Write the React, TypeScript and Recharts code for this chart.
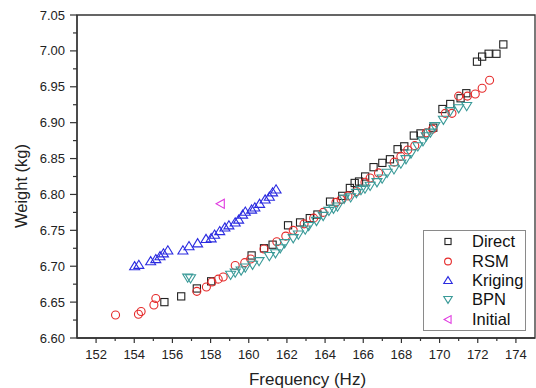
import React from "react";
import { ScatterChart, Scatter, XAxis, YAxis, ReferenceArea, Legend } from "recharts";

// data (Hz / kg)
const directHz = [155.58, 156.46, 157.28, 158.03, 160.15, 160.8, 161.25, 162.06, 162.69, 163.2, 163.6, 164.26, 164.9, 165.3, 165.55, 165.78, 166.1, 166.54, 167.0, 167.4, 167.8, 168.15, 168.65, 169.0, 169.67, 170.15, 170.56, 171.1, 171.4, 171.96, 172.23, 172.57, 172.98, 173.34];
const directKg = [6.65, 6.658, 6.669, 6.679, 6.715, 6.725, 6.73, 6.757, 6.761, 6.767, 6.772, 6.79, 6.798, 6.809, 6.816, 6.818, 6.825, 6.838, 6.844, 6.849, 6.863, 6.867, 6.882, 6.885, 6.893, 6.919, 6.926, 6.934, 6.941, 6.985, 6.992, 6.996, 6.996, 7.009];

const rsmHz = [153.02, 154.22, 154.36, 155.03, 155.13, 157.28, 157.78, 158.07, 158.4, 158.66, 159.29, 159.79, 160.1, 160.8, 161.47, 161.94, 162.33, 162.9, 163.4, 163.9, 164.57, 164.84, 165.2, 165.64, 166.09, 166.36, 166.8, 167.62, 167.97, 168.33, 168.7, 169.3, 169.63, 170.3, 170.65, 171.0, 171.46, 171.87, 172.23, 172.62];
const rsmKg = [6.632, 6.633, 6.637, 6.646, 6.655, 6.665, 6.671, 6.678, 6.682, 6.685, 6.701, 6.705, 6.71, 6.724, 6.734, 6.742, 6.75, 6.759, 6.767, 6.775, 6.789, 6.793, 6.798, 6.804, 6.817, 6.823, 6.83, 6.845, 6.853, 6.862, 6.868, 6.886, 6.891, 6.913, 6.913, 6.937, 6.937, 6.94, 6.948, 6.959];

const krigingHz = [154.02, 154.24, 154.86, 155.13, 155.35, 155.53, 155.76, 156.55, 156.87, 157.32, 157.76, 158.03, 158.21, 158.48, 158.75, 158.96, 159.29, 159.47, 159.68, 159.82, 160.15, 160.32, 160.57, 160.86, 161.08, 161.25, 161.43];
const krigingKg = [6.7, 6.702, 6.707, 6.71, 6.714, 6.718, 6.722, 6.722, 6.728, 6.732, 6.738, 6.739, 6.744, 6.749, 6.754, 6.757, 6.761, 6.765, 6.772, 6.776, 6.779, 6.782, 6.787, 6.793, 6.797, 6.803, 6.807];

const bpnHz = [156.8, 156.95, 159.05, 159.29, 159.6, 159.82, 160.2, 160.54, 161.08, 161.4, 161.65, 161.88, 162.33, 162.6, 162.96, 163.14, 163.55, 163.9, 164.2, 164.44, 164.65, 165.0, 165.34, 165.64, 165.88, 166.09, 166.36, 166.72, 166.99, 167.25, 167.61, 167.97, 168.24, 168.5, 168.86, 169.13, 169.3, 169.52, 169.75, 170.2, 170.56, 171.0, 171.42];
const bpnKg = [6.684, 6.683, 6.688, 6.691, 6.694, 6.698, 6.702, 6.707, 6.714, 6.718, 6.725, 6.732, 6.739, 6.744, 6.751, 6.756, 6.763, 6.77, 6.777, 6.78, 6.783, 6.794, 6.796, 6.802, 6.806, 6.808, 6.812, 6.817, 6.822, 6.83, 6.835, 6.843, 6.849, 6.857, 6.867, 6.874, 6.881, 6.886, 6.895, 6.904, 6.916, 6.92, 6.923];

const initialHz = [158.53];
const initialKg = [6.787];

const xTicks = [152, 153, 154, 155, 156, 157, 158, 159, 160, 161, 162, 163, 164, 165, 166, 167, 168, 169, 170, 171, 172, 173, 174];
const yTicks = [6.6, 6.625, 6.65, 6.675, 6.7, 6.725, 6.75, 6.775, 6.8, 6.825, 6.85, 6.875, 6.9, 6.925, 6.95, 6.975, 7.0, 7.025, 7.05];

const FONT = "'Liberation Sans', Arial, sans-serif";
const AXIS = "#333";

const toPoints = (hz: number[], kg: number[]) => hz.map((x, i) => ({ x, y: kg[i] }));

type MarkerKind = "square" | "circle" | "up" | "down" | "left";

const Marker = ({ kind, cx, cy, color, s = 1 }: { kind: MarkerKind; cx: number; cy: number; color: string; s?: number }) => {
  const common = { fill: "none", stroke: color, strokeWidth: 1.1 };
  if (kind === "square") return <rect x={cx - 3.6 * s} y={cy - 3.6 * s} width={7.2 * s} height={7.2 * s} {...common} />;
  if (kind === "circle") return <circle cx={cx} cy={cy} r={4 * s} {...common} />;
  if (kind === "up")
    return <polygon points={`${cx},${cy - 4.6 * s} ${cx + 5 * s},${cy + 3.6 * s} ${cx - 5 * s},${cy + 3.6 * s}`} {...common} />;
  if (kind === "down")
    return <polygon points={`${cx - 5 * s},${cy - 3.6 * s} ${cx + 5 * s},${cy - 3.6 * s} ${cx},${cy + 4.6 * s}`} {...common} />;
  return <polygon points={`${cx - 4.6 * s},${cy} ${cx + 3.6 * s},${cy - 4.6 * s} ${cx + 3.6 * s},${cy + 4.6 * s}`} {...common} />;
};

const series: { name: string; kind: MarkerKind; color: string; data: { x: number; y: number }[] }[] = [
  { name: "Direct", kind: "square", color: "#222222", data: toPoints(directHz, directKg) },
  { name: "RSM", kind: "circle", color: "#e52a2a", data: toPoints(rsmHz, rsmKg) },
  { name: "Kriging", kind: "up", color: "#2b2be0", data: toPoints(krigingHz, krigingKg) },
  { name: "BPN", kind: "down", color: "#3a9a98", data: toPoints(bpnHz, bpnKg) },
  { name: "Initial", kind: "left", color: "#e03ae0", data: toPoints(initialHz, initialKg) },
];

const XTick = (props: any) => {
  const { x, y, payload } = props;
  const major = payload.value % 2 === 0;
  return (
    <g>
      <line x1={x} x2={x} y1={y} y2={y + (major ? 5 : 3)} stroke={AXIS} strokeWidth={1.2} />
      {major && (
        <text x={x} y={y + 20.5} textAnchor="middle" fontSize={13} fontFamily={FONT} fill="#222">
          {payload.value}
        </text>
      )}
    </g>
  );
};

const YTick = (props: any) => {
  const { x, y, payload } = props;
  const major = Math.round(payload.value * 1000) % 50 === 0;
  return (
    <g>
      <line x1={x - (major ? 7 : 4)} x2={x} y1={y} y2={y} stroke={AXIS} strokeWidth={1.2} />
      {major && (
        <text x={x - 12} y={y + 4.6} textAnchor="end" fontSize={13} fontFamily={FONT} fill="#222">
          {payload.value.toFixed(2)}
        </text>
      )}
    </g>
  );
};

const LegendBox = () => (
  <div
    style={{
      width: 103,
      height: 101,
      border: "1px solid #8a8a8a",
      boxSizing: "border-box",
      background: "#fff",
      paddingTop: 1,
      fontFamily: FONT,
      fontSize: 16.5,
      color: "#111",
    }}
  >
    {series.map((s) => (
      <div key={s.name} style={{ display: "flex", alignItems: "center", height: 19.4 }}>
        <svg width={48} height={19} style={{ display: "block" }}>
          <Marker kind={s.kind} cx={24} cy={9.5} color={s.color} s={0.85} />
        </svg>
        <span>{s.name}</span>
      </div>
    ))}
  </div>
);

export default function App() {
  return (
    <div style={{ position: "absolute", left: 0, top: 0, width: 536, height: 388, background: "#fff" }}>
      <ScatterChart width={536} height={388} margin={{ top: 15, right: 1, bottom: 0, left: 0 }}>
        <XAxis
          type="number"
          dataKey="x"
          domain={[151, 175]}
          ticks={xTicks}
          interval={0}
          allowDataOverflow
          height={50}
          stroke={AXIS}
          strokeWidth={1.3}
          tickLine={false}
          tickSize={0}
          tickMargin={0}
          tick={<XTick />}
          label={{
            content: (p: any) => (
              <text
                x={p.viewBox.x + p.viewBox.width / 2 + 1.5}
                y={385}
                textAnchor="middle"
                fontSize={17}
                fontFamily={FONT}
                fill="#222"
              >
                Frequency (Hz)
              </text>
            ),
          }}
        />
        <YAxis
          type="number"
          dataKey="y"
          domain={[6.6, 7.05]}
          ticks={yTicks}
          interval={0}
          allowDataOverflow
          width={77}
          stroke={AXIS}
          strokeWidth={1.3}
          tickLine={false}
          tickSize={0}
          tickMargin={0}
          tick={<YTick />}
          label={{
            content: (p: any) => {
              const cy = p.viewBox.y + p.viewBox.height / 2 + 9.5;
              return (
                <text
                  x={27}
                  y={cy}
                  transform={`rotate(-90 27 ${cy})`}
                  textAnchor="middle"
                  fontSize={16.5}
                  fontFamily={FONT}
                  fill="#222"
                >
                  Weight (kg)
                </text>
              );
            },
          }}
        />
        <ReferenceArea x1={151} x2={175} y1={6.6} y2={7.05} fill="none" stroke={AXIS} strokeWidth={1.3} ifOverflow="visible" />
        {series.map((s) => (
          <Scatter
            key={s.name}
            name={s.name}
            data={s.data}
            isAnimationActive={false}
            shape={(p: any) => <Marker kind={s.kind} cx={p.cx} cy={p.cy} color={s.color} />}
          />
        ))}
        <Legend
          layout="horizontal"
          align="center"
          verticalAlign="middle"
          content={() => <LegendBox />}
          wrapperStyle={{ position: "absolute", left: 423, top: 230, width: 103, height: 101 }}
        />
      </ScatterChart>
    </div>
  );
}
